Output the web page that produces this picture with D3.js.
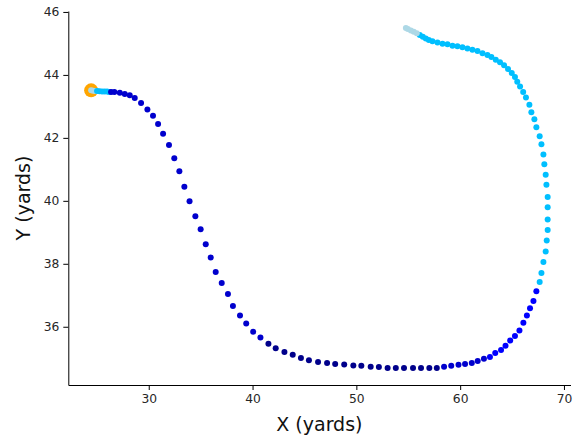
<!DOCTYPE html>
<html>
<head>
<meta charset="utf-8">
<script src="https://cdn.jsdelivr.net/npm/d3@7"></script>
<style>
  body { margin: 0; background: #fff; }
  text { font-family: "DejaVu Sans", sans-serif; }
</style>
</head>
<body>
<svg id="chart" width="578" height="442"></svg>
<script>
// player track, yards
var xPos = [
  24.45, 24.64, 24.83,
  25.02, 25.26, 25.51, 25.75, 25.99, 26.18,
  26.37, 26.69, 27.21, 27.69, 28.17, 28.65, 29.26, 29.87, 30.41, 30.90,
  31.38, 31.95, 32.46, 32.95, 33.43, 33.93, 34.49, 35.00, 35.49, 35.97,
  36.45, 37.03, 37.63, 38.11, 38.79, 39.39, 40.06, 40.76,
  41.53, 42.23, 43.07, 43.87, 44.66, 45.43, 46.31, 47.18, 47.96, 48.83,
  49.71, 50.48, 51.38, 52.17, 53.01, 53.80, 54.59, 55.46, 56.23, 57.03, 57.75,
  58.45, 59.14, 59.84, 60.47, 61.12, 61.69, 62.29,
  62.87, 63.38, 63.94, 64.37, 64.82, 65.28, 65.71, 66.09, 66.43, 66.73, 67.06, 67.34,
  67.66, 67.83, 68.02, 68.24, 68.34, 68.43, 68.43, 68.43, 68.43, 68.31,
  68.24, 68.11, 68.02, 67.83, 67.66, 67.34, 67.15, 66.86, 66.67, 66.34,
  66.07, 65.77, 65.50, 65.28, 64.97, 64.61, 64.23, 63.84, 63.43, 63.01,
  62.63, 62.15, 61.67, 61.18, 60.70, 60.22, 59.74, 59.26, 58.78, 58.30,
  57.82, 57.33,
  56.98, 56.69, 56.40, 56.11, 55.82, 55.53, 55.25, 54.96, 54.77
];
var yPos = [
  43.51, 43.50, 43.49,
  43.49, 43.48, 43.47, 43.47, 43.47, 43.46,
  43.46, 43.46, 43.43, 43.39, 43.35, 43.27, 43.11, 42.90, 42.70, 42.44,
  42.13, 41.77, 41.35, 40.94, 40.45, 39.99, 39.51, 39.10, 38.62, 38.20,
  37.74, 37.39, 37.04, 36.66, 36.36, 36.10, 35.84, 35.66,
  35.46, 35.32, 35.20, 35.11, 35.01, 34.94, 34.88, 34.85, 34.82, 34.80,
  34.77, 34.76, 34.73, 34.72, 34.69, 34.69, 34.69, 34.69, 34.69, 34.69, 34.69,
  34.73, 34.76, 34.79, 34.82, 34.85, 34.91, 34.98,
  35.04, 35.17, 35.26, 35.40, 35.56, 35.71, 35.88, 36.13, 36.36, 36.59, 36.82, 37.13,
  37.42, 37.71, 38.06, 38.39, 38.74, 39.07, 39.41, 39.80, 40.12, 40.51,
  40.83, 41.16, 41.47, 41.80, 42.05, 42.34, 42.59, 42.81, 43.05, 43.28,
  43.46, 43.63, 43.78, 43.93, 44.06, 44.19, 44.31, 44.40, 44.48, 44.57,
  44.63, 44.69, 44.76, 44.80, 44.84, 44.88, 44.91, 44.93, 44.97, 44.99,
  45.03, 45.07,
  45.11, 45.16, 45.21, 45.27, 45.32, 45.37, 45.41, 45.46, 45.49
];
// speed band and how many consecutive points are in it
var bandRuns = [
  ["idle", 3], ["slow", 6], ["fast", 28], ["sprint", 21],
  ["fast", 7], ["moderate", 12], ["slow", 46], ["idle", 9]
];
var bandNames = ["idle", "slow", "moderate", "fast", "sprint"];
var bandColors = ["lightblue", "deepskyblue", "blue", "mediumblue", "darkblue"];
var startPoint = [24.45, 43.51];
var xTicks = [30, 40, 50, 60, 70];
var yTicks = [36, 38, 40, 42, 44, 46];

var bands = [];
bandRuns.forEach(function(r){
  for (var i = 0; i < r[1]; i++) bands.push(r[0]);
});
var points = xPos.map(function(x, i){
  return { x: x, y: yPos[i], band: bands[i] };
});

var margin = { left: 68.3, right: 7.5, top: 11, bottom: 57 };
var width = 578 - margin.left - margin.right;
var height = 442 - margin.top - margin.bottom;

var svg = d3.select("#chart");
var g = svg.append("g").attr("transform", "translate(" + margin.left + "," + margin.top + ")");

var xScale = d3.scaleLinear().domain([22.25, 70.63]).range([0, width]);
var yScale = d3.scaleLinear().domain([34.15, 46.03]).range([height, 0]);
var color = d3.scaleOrdinal().domain(bandNames).range(bandColors);

// start marker
g.append("circle")
  .attr("cx", xScale(startPoint[0]))
  .attr("cy", yScale(startPoint[1]))
  .attr("r", 7)
  .attr("fill", "orange");

g.selectAll("circle.pt")
  .data(points)
  .enter().append("circle")
  .attr("class", "pt")
  .attr("cx", d => xScale(d.x))
  .attr("cy", d => yScale(d.y))
  .attr("r", 3)
  .attr("fill", d => color(d.band));

var xAxis = g.append("g")
  .attr("transform", "translate(0," + height + ")")
  .call(d3.axisBottom(xScale).tickValues(xTicks).tickSize(5).tickSizeOuter(0).tickPadding(4));
var yAxis = g.append("g")
  .call(d3.axisLeft(yScale).tickValues(yTicks).tickSize(5).tickSizeOuter(0).tickPadding(4));

[xAxis, yAxis].forEach(function(a){
  a.selectAll("text").style("font-size", "12.3px").attr("fill", "#262626");
  a.select(".domain").attr("stroke", "#000");
  a.selectAll(".tick line").attr("stroke", "#000");
});

svg.append("text")
  .attr("x", margin.left + width / 2)
  .attr("y", 431)
  .attr("text-anchor", "middle")
  .style("font-size", "19px")
  .attr("fill", "#111")
  .text("X (yards)");

svg.append("text")
  .attr("transform", "translate(30," + (margin.top + height / 2) + ") rotate(-90)")
  .attr("text-anchor", "middle")
  .style("font-size", "19px")
  .attr("fill", "#111")
  .text("Y (yards)");
</script>
</body>
</html>
